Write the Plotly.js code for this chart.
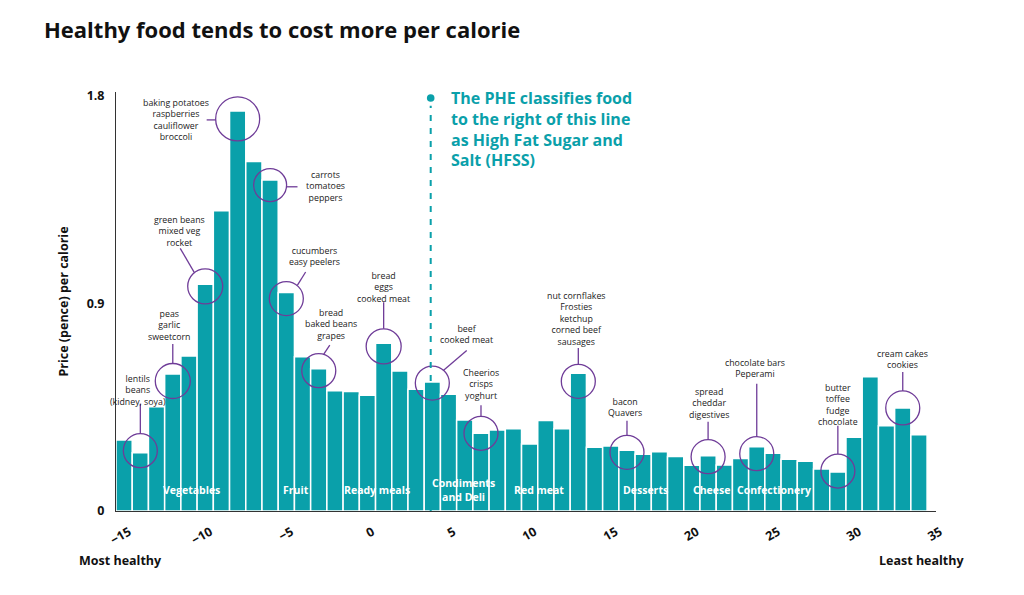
<!DOCTYPE html>
<html>
<head>
<meta charset="utf-8">
<script src="https://cdn.plot.ly/plotly-3.0.1.min.js"></script>
<style>html,body{margin:0;padding:0;background:#fff;}#chart{width:1024px;height:595px;}</style>
</head>
<body>
<div id="chart"></div>
<script>
// ---- data ----
const healthScore = [-15,-14,-13,-12,-11,-10,-9,-8,-7,-6,-5,-4,-3,-2,-1,0,1,2,3,4,5,6,7,8,9,10,11,12,13,14,15,16,17,18,19,20,21,22,23,24,25,26,27,28,29,30,31,32,33,34];
const pricePerCalorie = [0.308,0.253,0.452,0.594,0.672,0.983,1.302,1.735,1.516,1.435,0.947,0.669,0.617,0.522,0.518,0.502,0.727,0.607,0.528,0.559,0.506,0.395,0.337,0.351,0.357,0.291,0.392,0.357,0.597,0.276,0.282,0.263,0.246,0.257,0.236,0.198,0.240,0.199,0.228,0.279,0.250,0.224,0.216,0.182,0.169,0.320,0.582,0.370,0.447,0.331];
const xTickVals = [-15,-10,-5,0,5,10,15,20,25,30,35];
const yTickVals = [0,0.9,1.8];
const yTickText = ['0','0.9','1.8'];
const groupNames = ['Vegetables','Fruit','Ready meals','Condiments<br>and Deli','Red meat','Desserts','Cheese','Confectionery'];
const groupCentres = [-10.86,-4.38,0.61,5.91,10.6,17.13,21.2,25.08];
const hfssThreshold = 3.9;
const calloutBars = [-14,-12,-10,-8,-6,-5,-3,1,4,7,13,16,21,24,29,33];
const calloutTexts = [
  'lentils<br>beans<br>(kidney, soya)',
  'peas<br>garlic<br>sweetcorn',
  'green beans<br>mixed veg<br>rocket',
  'baking potatoes<br>raspberries<br>cauliflower<br>broccoli',
  'carrots<br>tomatoes<br>peppers',
  'cucumbers<br>easy peelers',
  'bread<br>baked beans<br>grapes',
  'bread<br>eggs<br>cooked meat',
  'beef<br>cooked meat',
  'Cheerios<br>crisps<br>yoghurt',
  'nut cornflakes<br>Frosties<br>ketchup<br>corned beef<br>sausages',
  'bacon<br>Quavers',
  'spread<br>cheddar<br>digestives',
  'chocolate bars<br>Peperami',
  'butter<br>toffee<br>fudge<br>chocolate',
  'cream cakes<br>cookies'
];

// ---- styling of callouts (pixel offsets, screen y down) ----
const calloutStyle = [
  {dy:-2, r:17,   line:[0,-17,0,-47],        t:[-2,-60]},
  {dy:7,  r:17.5, line:[0,-17.5,0,-37],      t:[-3,-56]},
  {dy:2,  r:17.5, line:[-11,-14,-25,-38],    t:[-26,-55]},
  {dy:8,  r:22,   line:[-22,1,-31,1],        t:[-62,1]},
  {dy:5,  r:16.5, line:[16.5,1.7,27.4,1.7],  t:[55,1.7]},
  {dy:6,  r:17,   line:[11,-13.3,19.3,-26.6],t:[28.6,-42.6]},
  {dy:2,  r:17,   line:[5,-16.7,11,-25.7],   t:[12,-46.4]},
  {dy:3,  r:17.5, line:[0,-17.5,0,-44],      t:[0,-58.4]},
  {dy:1,  r:17,   line:[11,-12.7,34.4,-32.7],t:[34.4,-48.4]},
  {dy:0,  r:17,   line:[0,-17,0,-28],        t:[0,-48.6]},
  {dy:8,  r:17,   line:[0,-17,0,-33.4],      t:[-2,-62]},
  {dy:2,  r:17,   line:[0,-16.7,0,-31.7],    t:[-1.7,-45]},
  {dy:1,  r:17,   line:[0,-16.7,0,-35],      t:[1,-53.4]},
  {dy:7,  r:17,   line:[0,-16.7,0,-70],      t:[-1.6,-85]},
  {dy:-1, r:17,   line:[0,-17,0,-45.3],      t:[0,-66.2]},
  {dy:0,  r:17,   line:[0,-17,0,-36],        t:[0,-48.7]}
];

const TEAL = '#0aa0aa';
const PURPLE = '#6f3c98';
const FONT = '"Open Sans", Lato, sans-serif';

const shapes = [];
const annotations = [];

calloutBars.forEach((bx, i) => {
  const s = calloutStyle[i];
  const by = pricePerCalorie[healthScore.indexOf(bx)];
  shapes.push({
    type:'circle', xref:'x', yref:'y', xsizemode:'pixel', ysizemode:'pixel',
    xanchor:bx, yanchor:by,
    x0:-s.r, x1:s.r, y0:-s.dy - s.r, y1:-s.dy + s.r,
    line:{color:PURPLE, width:1.3}, fillcolor:'rgba(0,0,0,0)', layer:'above'
  });
  shapes.push({
    type:'line', xref:'x', yref:'y', xsizemode:'pixel', ysizemode:'pixel',
    xanchor:bx, yanchor:by,
    x0:s.line[0], x1:s.line[2], y0:-(s.dy + s.line[1]), y1:-(s.dy + s.line[3]),
    line:{color:PURPLE, width:1.3}, layer:'above'
  });
  annotations.push({
    x:bx, y:by, xref:'x', yref:'y', showarrow:false,
    xshift:s.t[0], yshift:-(s.dy + s.t[1]),
    xanchor:'center', yanchor:'middle', align:'center',
    text:calloutTexts[i],
    font:{family:FONT, size:8.8, color:'#222'}
  });
});

groupNames.forEach((g, i) => {
  annotations.push({
    x:groupCentres[i], y:0.091, xref:'x', yref:'y', showarrow:false,
    xanchor:'center', yanchor:'middle', align:'center', text:g,
    font:{family:FONT, size:10.5, color:'#ffffff', weight:'bold'}
  });
});

// HFSS line, dot and text
shapes.push({
  type:'line', xref:'x', yref:'y', x0:hfssThreshold, x1:hfssThreshold, y0:0, y1:1.757,
  line:{color:TEAL, width:2, dash:'6px,7px'}, layer:'above'
});
shapes.push({
  type:'circle', xref:'x', yref:'y', xsizemode:'pixel', ysizemode:'pixel',
  xanchor:hfssThreshold, yanchor:1.791, x0:-3.8, x1:3.8, y0:-3.8, y1:3.8,
  fillcolor:TEAL, line:{color:TEAL, width:0}, layer:'above'
});
annotations.push({
  x:hfssThreshold, y:1.657, xref:'x', yref:'y', showarrow:false, xshift:18,
  xanchor:'left', yanchor:'middle', align:'left',
  text:'The PHE classifies food<br>to the right of this line<br>as High Fat Sugar and<br>Salt (HFSS)',
  font:{family:FONT, size:16, color:TEAL, weight:'bold'}
});

annotations.push({
  x:0.005, y:-0.119, xref:'paper', yref:'paper', showarrow:false,
  xanchor:'center', yanchor:'middle', text:'Most healthy',
  font:{family:FONT, size:12.5, color:'#111', weight:'bold'}
});
annotations.push({
  x:0.982, y:-0.119, xref:'paper', yref:'paper', showarrow:false,
  xanchor:'center', yanchor:'middle', text:'Least healthy',
  font:{family:FONT, size:12.5, color:'#111', weight:'bold'}
});

const trace = {
  type:'bar', x:healthScore, y:pricePerCalorie, width:1,
  marker:{color:TEAL, line:{color:'#ffffff', width:1.5}},
  hoverinfo:'x+y'
};

const layout = {
  width:1024, height:595,
  margin:{l:116, r:88, t:92, b:84},
  paper_bgcolor:'#ffffff', plot_bgcolor:'#ffffff',
  bargap:0, showlegend:false,
  font:{family:FONT, color:'#111'},
  title:{
    text:'Healthy food tends to cost more per calorie',
    x:44/1024, xref:'container', xanchor:'left',
    y:1-30/595, yref:'container', yanchor:'middle',
    font:{family:FONT, size:22, color:'#111', weight:'bold'}
  },
  xaxis:{
    range:[-15.5, 35.05], tickvals:xTickVals, tickangle:-30,
    showgrid:false, zeroline:false, showline:true, linecolor:'#333', linewidth:1,
    ticks:'', ticklabelstandoff:8, ticklabelshift:5,
    tickfont:{family:FONT, size:12.5, color:'#111', weight:'bold'}
  },
  yaxis:{
    range:[0, 1.817], tickvals:yTickVals, ticktext:yTickText,
    showgrid:false, zeroline:false, showline:true, linecolor:'#333', linewidth:1,
    ticks:'', ticklabelstandoff:8,
    tickfont:{family:FONT, size:12.5, color:'#111', weight:'bold'},
    title:{text:'Price (pence) per calorie', standoff:15,
      font:{family:FONT, size:12.5, color:'#111', weight:'bold'}}
  },
  shapes:shapes,
  annotations:annotations
};

Plotly.newPlot('chart', [trace], layout, {displayModeBar:false, staticPlot:true});
</script>
</body>
</html>
